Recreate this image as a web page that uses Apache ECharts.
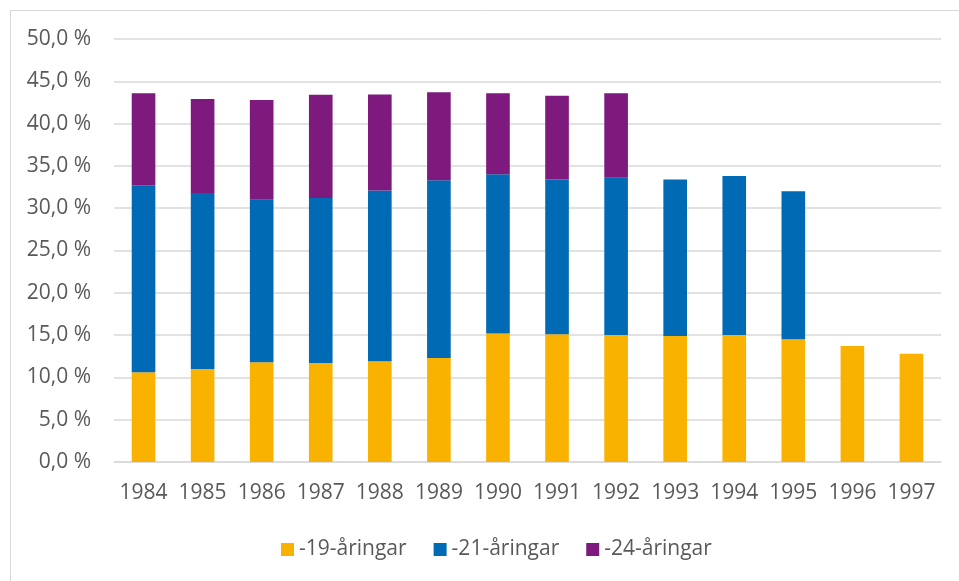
<!DOCTYPE html>
<html>
<head>
<meta charset="utf-8">
<script src="https://cdn.jsdelivr.net/npm/echarts@6/dist/echarts.min.js"></script>
<style>
  html, body { margin: 0; padding: 0; background: #fff; }
  #chart { width: 959px; height: 581px; }
</style>
</head>
<body>
<div id="chart"></div>
<script>
// år på x-axeln
var years = ['1984', '1985', '1986', '1987', '1988', '1989', '1990',
             '1991', '1992', '1993', '1994', '1995', '1996', '1997'];
// andel per åldersgrupp (procentenheter, staplade)
var age19 = [10.6, 11.0, 11.8, 11.7, 11.9, 12.3, 15.2, 15.1, 15.0, 14.9, 15.0, 14.5, 13.7, 12.8];
var age21 = [22.1, 20.8, 19.2, 19.5, 20.2, 21.0, 18.8, 18.3, 18.6, 18.5, 18.8, 17.5, null, null];
var age24 = [10.9, 11.1, 11.8, 12.2, 11.35, 10.4, 9.6, 9.9, 10.0, null, null, null, null, null];
var seriesNames = ['-19-åringar', '-21-åringar', '-24-åringar'];

var font = '"Open Sans", "Noto Sans", sans-serif';
var textColor = '#595959';

var chart = echarts.init(document.getElementById('chart'), null, { renderer: 'canvas' });

function bar(name, data, color) {
  return {
    name: name,
    type: 'bar',
    stack: 'total',
    data: data,
    barWidth: '40%',
    itemStyle: { color: color },
    emphasis: { disabled: true }
  };
}

chart.setOption({
  animation: false,
  graphic: [{
    type: 'rect',
    shape: { x: 10.5, y: 10.5, width: 1000, height: 1000 },
    style: { fill: 'none', stroke: '#d9d9d9', lineWidth: 1 },
    silent: true
  }],
  grid: { left: 114, right: 18, top: 39, bottom: 119 },
  legend: {
    left: 276,
    top: 534,
    itemWidth: 13,
    itemHeight: 13,
    itemGap: 27,
    icon: 'rect',
    textStyle: { fontFamily: font, fontSize: 21, color: textColor },
    data: seriesNames
  },
  xAxis: {
    type: 'category',
    data: years,
    axisLine: { lineStyle: { color: '#d9d9d9', width: 1.5 } },
    axisTick: { show: false },
    axisLabel: { interval: 0, fontFamily: font, fontSize: 21, color: textColor, margin: 21 }
  },
  yAxis: {
    type: 'value',
    min: 0,
    max: 50,
    interval: 5,
    axisLine: { show: false },
    axisTick: { show: false },
    splitLine: { lineStyle: { color: '#d9d9d9', width: 1.5 } },
    axisLabel: {
      fontFamily: font,
      fontSize: 21,
      color: textColor,
      margin: 23,
      formatter: function (v) { return v.toFixed(1).replace('.', ',') + ' %'; }
    }
  },
  series: [
    bar(seriesNames[0], age19, '#F9B200'),
    bar(seriesNames[1], age21, '#006AB4'),
    bar(seriesNames[2], age24, '#7E197E')
  ]
});
</script>
</body>
</html>
